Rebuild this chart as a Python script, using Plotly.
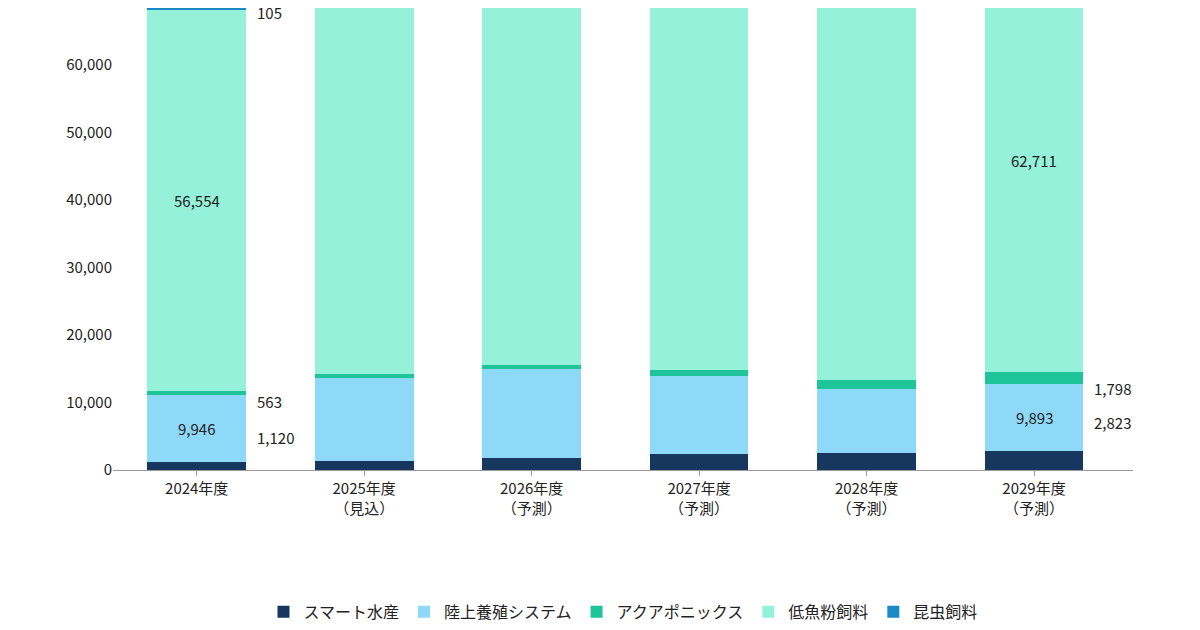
import plotly.graph_objects as go

years = ["2024年度", "2025年度<br>（見込）", "2026年度<br>（予測）", "2027年度<br>（予測）",
         "2028年度<br>（予測）", "2029年度<br>（予測）"]
smart = [1120, 1300, 1800, 2300, 2500, 2823]
land = [9946, 12300, 13200, 11600, 9500, 9893]
aqua = [563, 600, 600, 900, 1300, 1798]
lowfish = [56554, 58000, 59500, 60500, 61500, 62711]
insect = [105, 120, 140, 160, 180, 200]

series = [
    ("スマート水産", smart, "#17375e"),
    ("陸上養殖システム", land, "#8ed8f8"),
    ("アクアポニックス", aqua, "#1fc598"),
    ("低魚粉飼料", lowfish, "#95f1d9"),
    ("昆虫飼料", insect, "#1a8ac6"),
]

fig = go.Figure()
for name, vals, col in series:
    fig.add_trace(go.Bar(x=years, y=vals, name=name, marker=dict(color=col, line=dict(width=0))))

font = dict(family="Noto Sans CJK JP", size=15, color="#222")
ann = []
def inside(i, base, v):
    ann.append(dict(x=years[i], y=base + v / 2, text=f"{v:,}", showarrow=False, font=font))
def right(i, y, v, ay=0):
    ann.append(dict(x=years[i], y=y, text=f"{v:,}", showarrow=False, xanchor="left",
                    xshift=58, yshift=ay, font=font))

inside(0, smart[0], land[0])
inside(0, smart[0] + land[0] + aqua[0], lowfish[0])
right(0, smart[0], smart[0], 25)
right(0, smart[0] + land[0] + aqua[0], aqua[0], -10)
right(0, 68000, insect[0], -2)
inside(5, smart[5], land[5])
inside(5, smart[5] + land[5] + aqua[5], lowfish[5])
right(5, smart[5], smart[5], 28)
right(5, smart[5] + land[5] + aqua[5] / 2, aqua[5], -10)

fig.update_layout(
    barmode="stack", bargap=0.41, width=1200, height=630,
    paper_bgcolor="white", plot_bgcolor="white",
    margin=dict(l=105, r=75, t=0, b=168, autoexpand=False),
    font=font, annotations=ann,
    legend=dict(orientation="h", x=0.5, xanchor="center", y=-0.27, yanchor="top",
                font=dict(family="Noto Sans CJK JP", size=16, color="#222"),
                traceorder="normal", itemwidth=30),
    yaxis=dict(range=[0, 68400], tickformat=",", showgrid=False, dtick=10000,
               ticks="", zeroline=False),
    xaxis=dict(showline=True, linecolor="#999", ticks="outside", tickcolor="#999"),
)
fig.write_html("out.html")
